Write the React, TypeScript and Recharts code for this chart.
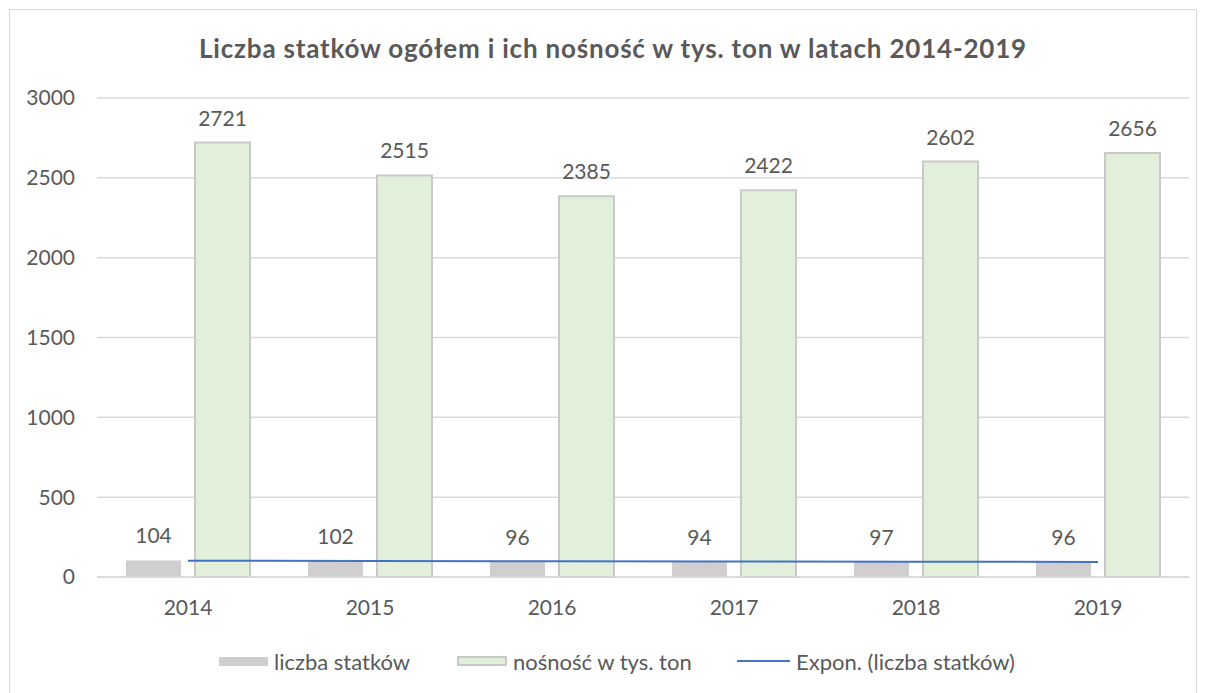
import React from 'react';
import { ComposedChart, Bar, Line, XAxis, YAxis, CartesianGrid, LabelList, Legend } from 'recharts';

const years = ['2014', '2015', '2016', '2017', '2018', '2019'];
const shipCount = [104, 102, 96, 94, 97, 96];
const capacity = [2721, 2515, 2385, 2422, 2602, 2656];
const trendCount = [102.2, 100.5, 98.9, 97.3, 95.7, 94.2];
const yTicks = [0, 500, 1000, 1500, 2000, 2500, 3000];

const seriesNames = ['liczba statków', 'nośność w tys. ton', 'Expon. (liczba statków)'];

const FONT = 'Lato, "Open Sans", sans-serif';
const TEXT = '#595959';

const data = years.map((y, i) => ({
  year: y,
  count: shipCount[i],
  cap: capacity[i],
  trend: trendCount[i],
}));

const LegendContent = () => {
  const starts = [211, 449, 729];
  return (
    <div style={{ position: 'relative', height: 30, width: 1200, fontFamily: FONT, fontSize: 22, color: TEXT }}>
      {seriesNames.map((name, i) => (
        <div
          key={name}
          style={{ position: 'absolute', left: starts[i], top: 0, height: 30, display: 'flex', alignItems: 'center', whiteSpace: 'nowrap' }}
        >
          {i === 0 && <span style={{ display: 'inline-block', width: 49, height: 9, background: '#d0cece' }} />}
          {i === 1 && (
            <span style={{ display: 'inline-block', width: 50, height: 10, background: '#e2efda', border: '2px solid #c9c9c9', boxSizing: 'border-box' }} />
          )}
          {i === 2 && <span style={{ display: 'inline-block', width: 53, height: 2, background: '#4472c4' }} />}
          <span style={{ marginLeft: 6 }}>{name}</span>
        </div>
      ))}
    </div>
  );
};

export default function App() {
  return (
    <div style={{ position: 'relative', width: 1200, height: 685, fontFamily: FONT }}>
      <div
        style={{
          position: 'absolute',
          left: 1,
          top: 1,
          width: 1188,
          height: 700,
          border: '1px solid #d9d9d9',
          boxSizing: 'border-box',
        }}
      />
      <div
        style={{
          position: 'absolute',
          left: 0,
          top: 25,
          width: 1210,
          height: 30,
          lineHeight: '30px',
          textAlign: 'center',
          fontWeight: 'bold',
          fontSize: 26,
          letterSpacing: 0.8,
          color: TEXT,
          fontFamily: FONT,
        }}
      >
        Liczba statków ogółem i ich nośność w tys. ton w latach 2014-2019
      </div>
      <ComposedChart
        width={1200}
        height={685}
        data={data}
        margin={{ top: 90, right: 19, left: 29, bottom: 17 }}
        barCategoryGap={29}
        barGap={14}
      >
        <CartesianGrid vertical={false} stroke="#d9d9d9" strokeWidth={1.5} />
        <XAxis
          dataKey="year"
          height={69}
          axisLine={{ stroke: '#d9d9d9', strokeWidth: 1.5 }}
          tickLine={false}
          tickSize={0}
          tickMargin={23}
          tick={{ fill: TEXT, fontSize: 21, fontFamily: FONT }}
        />
        <YAxis
          width={60}
          domain={[0, 3000]}
          ticks={yTicks}
          axisLine={false}
          tickLine={false}
          tickSize={0}
          tickMargin={22}
          tick={{ fill: TEXT, fontSize: 21, fontFamily: FONT }}
        />
        <Legend
          verticalAlign="bottom"
          content={<LegendContent />}
          wrapperStyle={{ left: 0, bottom: 17, width: 1200, height: 30 }}
        />
        <Bar dataKey="count" name={seriesNames[0]} fill="#d0cece" isAnimationActive={false}>
          <LabelList dataKey="count" position="top" offset={17} fill={TEXT} fontSize={21} fontFamily={FONT} />
        </Bar>
        <Bar dataKey="cap" name={seriesNames[1]} fill="#e2efda" stroke="#c9c9c9" strokeWidth={2} isAnimationActive={false}>
          <LabelList dataKey="cap" position="top" offset={17} fill={TEXT} fontSize={21} fontFamily={FONT} />
        </Bar>
        <Line
          type="linear"
          dataKey="trend"
          name={seriesNames[2]}
          stroke="#4472c4"
          strokeWidth={2}
          dot={false}
          activeDot={false}
          isAnimationActive={false}
        />
      </ComposedChart>
    </div>
  );
}
